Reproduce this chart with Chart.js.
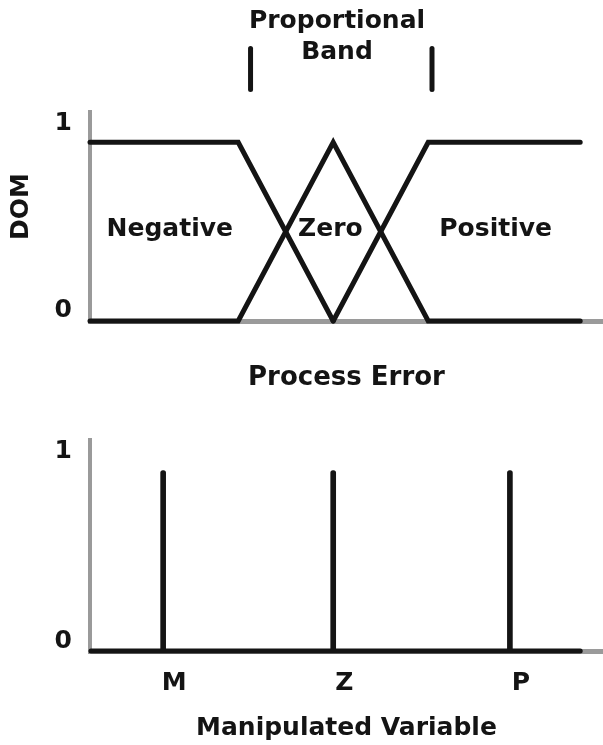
<!DOCTYPE html>
<html>
<head>
<meta charset="utf-8">
<script src="https://cdn.jsdelivr.net/npm/chart.js@4.4.1/dist/chart.umd.min.js"></script>
<style>
  html, body { margin: 0; padding: 0; background: #fff; }
  .caixa { position: absolute; left: 0; width: 603px; }
  #caixaErro { top: 0; height: 400px; }
  #caixaSaida { top: 400px; height: 345px; }
</style>
</head>
<body>
<div class="caixa" id="caixaErro"><canvas id="chartErro"></canvas></div>
<div class="caixa" id="caixaSaida"><canvas id="chartSaida"></canvas></div>
<script>
// dados: funcoes de pertinencia do erro (x = erro, y = DOM)
const negX = [-2.56, -1, 0];
const negY = [1, 1, 0];
const zeroX = [-2.56, -1, 0, 1, 2.6];
const zeroY = [0, 0, 1, 0, 0];
const posX = [0, 1, 2.6];
const posY = [0, 1, 1];
const regioes = ['Negative', 'Zero', 'Positive'];
const bandaX = [-0.87, 1.04];          // limites da banda proporcional

// dados: singletons da variavel manipulada
const saidaNomes = ['M', 'Z', 'P'];
const saidaX = [-1.79, 0, 1.86];
const saidaY = [1, 1, 1];
const baseX = [-2.55, 2.6];
const baseY = [0, 0];

const yRotulos = ['0', '1'];

const PRETO = '#141414';
const CINZA = '#9a9a9a';
const FONTE = '"DejaVu Sans", sans-serif';

Chart.defaults.font.family = FONTE;
Chart.defaults.font.weight = 'bold';
Chart.defaults.font.size = 25;
Chart.defaults.color = PRETO;

const pares = (xs, ys) => xs.map((x, i) => ({ x: x, y: ys[i] }));

const linha = (xs, ys) => ({
    type: 'line',
    data: pares(xs, ys),
    borderColor: PRETO,
    borderWidth: 5,
    borderCapStyle: 'round',
    borderJoinStyle: 'miter',
    pointRadius: 0,
    tension: 0,
    clip: false
});

// textos soltos: rotulos do eixo y, nomes das regioes, banda proporcional, DOM
const textos = {
    id: 'textos',
    afterDraw(chart, args, o) {
        const { ctx, scales: { x, y } } = chart;
        ctx.save();
        ctx.fillStyle = PRETO;
        ctx.font = 'bold 25px ' + FONTE;
        ctx.textBaseline = 'middle';
        ctx.textAlign = 'right';
        yRotulos.forEach((t, i) => ctx.fillText(t, x.left - 18, y.getPixelForValue(o.yPos[i])));
        ctx.textAlign = 'center';
        (o.rotulos || []).forEach(r => ctx.fillText(r.texto, x.getPixelForValue(r.x), y.getPixelForValue(r.y)));
        if (o.dom) {
            ctx.save();
            ctx.translate(x.left - 69, y.getPixelForValue(o.dom));
            ctx.rotate(-Math.PI / 2);
            ctx.fillText('DOM', 0, 0);
            ctx.restore();
        }
        if (o.banda) {
            ctx.strokeStyle = PRETO;
            ctx.lineWidth = 5;
            ctx.lineCap = 'round';
            bandaX.forEach(v => {
                const px = x.getPixelForValue(v);
                ctx.beginPath();
                ctx.moveTo(px, y.getPixelForValue(1.525));
                ctx.lineTo(px, y.getPixelForValue(1.296));
                ctx.stroke();
            });
        }
        ctx.restore();
    }
};

const eixoY = () => ({
    type: 'linear',
    min: 0,
    max: 1.17,
    grid: { display: false, drawTicks: false },
    border: { color: CINZA, width: 4 },
    ticks: { display: false },
    afterFit: s => { s.width = 90; }
});

new Chart(document.getElementById('chartErro'), {
    type: 'line',
    data: {
        datasets: [linha(negX, negY), linha(zeroX, zeroY), linha(posX, posY)]
    },
    options: {
        responsive: true,
        maintainAspectRatio: false,
        animation: false,
        layout: { padding: { top: 112, left: 0, right: 0, bottom: 0 } },
        plugins: {
            legend: { display: false },
            tooltip: { enabled: false },
            textos: {
                yPos: [0.06, 1.105],
                banda: true,
                dom: 0.64,
                rotulos: [
                    { texto: regioes[0], x: -1.72, y: 0.51 },
                    { texto: regioes[1], x: -0.03, y: 0.51 },
                    { texto: regioes[2], x: 1.71, y: 0.51 },
                    { texto: 'Proportional', x: 0.04, y: 1.676 },
                    { texto: 'Band', x: 0.04, y: 1.503 }
                ]
            }
        },
        scales: {
            x: {
                type: 'linear',
                min: -2.56,
                max: 2.84,
                grid: { display: false, drawTicks: false },
                border: { color: CINZA, width: 5 },
                ticks: { display: false },
                title: { display: true, text: 'Process Error', font: { size: 26 }, padding: { top: 0, bottom: 6 } },
                afterFit: s => { s.height = 79; }
            },
            y: eixoY()
        }
    },
    plugins: [textos]
});

new Chart(document.getElementById('chartSaida'), {
    data: {
        datasets: [
            {
                type: 'bar',
                data: pares(saidaX, saidaY),
                backgroundColor: PRETO,
                barThickness: 5,
                borderRadius: { topLeft: 2.5, topRight: 2.5 },
                borderSkipped: 'bottom'
            },
            linha(baseX, baseY)
        ]
    },
    options: {
        responsive: true,
        maintainAspectRatio: false,
        animation: false,
        layout: { padding: { top: 40, left: 0, right: 0, bottom: 0 } },
        plugins: {
            legend: { display: false },
            tooltip: { enabled: false },
            textos: { yPos: [0.05, 1.105] }
        },
        scales: {
            x: {
                type: 'linear',
                min: -2.56,
                max: 2.84,
                offset: false,
                grid: { display: false, drawTicks: false, offset: false },
                border: { color: CINZA, width: 5 },
                afterBuildTicks: s => { s.ticks = saidaX.map(v => ({ value: v })); },
                ticks: {
                    autoSkip: false,
                    maxRotation: 0,
                    labelOffset: 11,
                    padding: 17,
                    callback: (v, i) => saidaNomes[i]
                },
                title: { display: true, text: 'Manipulated Variable', padding: { top: 0, bottom: 2 } },
                afterFit: s => { s.height = 94; }
            },
            y: eixoY()
        }
    },
    plugins: [textos]
});
</script>
</body>
</html>
